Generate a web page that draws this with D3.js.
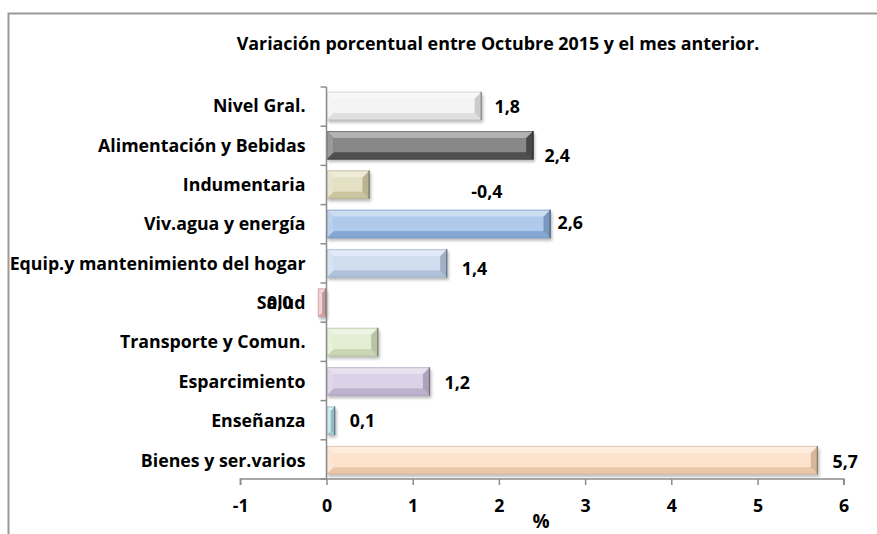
<!DOCTYPE html>
<html>
<head>
<meta charset="utf-8">
<script src="https://cdn.jsdelivr.net/npm/d3@7"></script>
<style>
  html, body { margin: 0; padding: 0; background: #fff; }
  svg { display: block; }
  text { font-family: "Open Sans", Lato, sans-serif; font-weight: bold; fill: #000; }
</style>
</head>
<body>
<svg id="chart" width="877" height="534"></svg>
<script>
// ---- data ----
const categories = [
  "Nivel Gral.",
  "Alimentación y Bebidas",
  "Indumentaria",
  "Viv.agua y energía",
  "Equip.y mantenimiento del hogar",
  "Salud",
  "Transporte y Comun.",
  "Esparcimiento",
  "Enseñanza",
  "Bienes y ser.varios"
];
const barValues = [1.8, 2.4, 0.5, 2.6, 1.4, -0.1, 0.6, 1.2, 0.1, 5.7];
const labelTexts = ["1,8", "2,4", "-0,4", "2,6", "1,4", "0,0", "", "1,2", "0,1", "5,7"];
// where each data label begins, in axis units
const labelAt = [1.95, 2.53, 1.68, 2.68, 1.57, -0.69, 0, 1.37, 0.27, 5.87];
const xTicks = [-1, 0, 1, 2, 3, 4, 5, 6];
const xDomain = [-1, 6];
const title = "Variación porcentual entre Octubre 2015 y el mes anterior.";
const xTitle = "%";

// ---- styles ----
const barColors = ["#efefef", "#555555", "#d9d2ab", "#8db3e2", "#bcd0ea",
                   "#e4b4b3", "#d9e6c0", "#cbbfdc", "#aedbe6", "#fcd6b6"];
const labelDy = [1, 10, 7, -1, 5, 0, 0, 1, 0, 1];

const svg = d3.select("#chart");
const W = 877, H = 534;

const x = d3.scaleLinear().domain(xDomain).range([240.3, 843.7]);
const y = d3.scaleBand().domain(categories).range([87, 479])
  .paddingInner(0.28).paddingOuter(0.12);

// fit a text element to a target width by adjusting its font size
function fitWidth(sel, target) {
  const node = sel.node();
  const fs = parseFloat(sel.style("font-size"));
  const w = node.getComputedTextLength();
  if (w > 0) sel.style("font-size", (fs * target / w).toFixed(2) + "px");
}

// frame
svg.append("path")
  .attr("d", `M8.5,${H} L8.5,13.5 L${W},13.5`)
  .attr("fill", "none").attr("stroke", "#9a9a9a").attr("stroke-width", 2);

// title
const t = svg.append("text").attr("x", 498).attr("y", 50)
  .attr("text-anchor", "middle").style("font-size", "16px").text(title);
fitWidth(t, 523);

const defs = svg.append("defs");
const f = defs.append("filter").attr("id", "shadow")
  .attr("x", "-10%").attr("y", "-30%").attr("width", "130%").attr("height", "180%");
f.append("feGaussianBlur").attr("stdDeviation", 1.5);

// bars
const g = svg.append("g");
categories.forEach((c, i) => {
  const v = barValues[i];
  const x0 = Math.min(x(0), x(v)), x1 = Math.max(x(0), x(v));
  const y0 = y(c), h = y.bandwidth(), y1 = y0 + h;
  const w = x1 - x0;
  const col = d3.color(barColors[i]);
  const bar = g.append("g");
  bar.append("rect").attr("x", x0 + 1.5).attr("y", y0 + 2.5).attr("width", w)
    .attr("height", h).attr("fill", "#000").attr("opacity", 0.28)
    .attr("filter", "url(#shadow)");
  bar.append("rect").attr("x", x0).attr("y", y0).attr("width", w).attr("height", h)
    .attr("fill", col.formatHex());
  const b = Math.min(7, w / 2, h / 2);
  const light = d3.interpolateRgb(col, "#ffffff")(0.55);
  const dark = col.darker(0.45).formatHex();
  const mid = d3.interpolateRgb(col, "#ffffff")(0.3);
  bar.append("rect").attr("x", x0 + b).attr("y", y0 + b).attr("width", Math.max(0, w - 2 * b))
    .attr("height", h - 2 * b).attr("fill", mid);
  bar.append("path").attr("d", `M${x0},${y0} L${x1},${y0} L${x1 - b},${y0 + b} L${x0 + b},${y0 + b} Z`)
    .attr("fill", light);
  bar.append("path").attr("d", `M${x0},${y1} L${x1},${y1} L${x1 - b},${y1 - b} L${x0 + b},${y1 - b} Z`)
    .attr("fill", col.darker(0.2).formatHex());
  bar.append("path").attr("d", `M${x0},${y0} L${x0 + b},${y0 + b} L${x0 + b},${y1 - b} L${x0},${y1} Z`)
    .attr("fill", d3.interpolateRgb(col, "#ffffff")(0.4));
  bar.append("path").attr("d", `M${x1},${y0} L${x1 - b},${y0 + b} L${x1 - b},${y1 - b} L${x1},${y1} Z`)
    .attr("fill", dark);
  bar.append("rect").attr("x", x0 + 0.5).attr("y", y0 + 0.5).attr("width", Math.max(0, w - 1))
    .attr("height", h - 1).attr("fill", "none").attr("stroke", col.darker(0.6).formatHex())
    .attr("stroke-opacity", 0.55).attr("stroke-width", 1);
  bar.append("line").attr("x1", x1 - 0.5).attr("x2", x1 - 0.5).attr("y1", y0).attr("y2", y1)
    .attr("stroke", col.darker(1.6).formatHex()).attr("stroke-width", 1.2);
});

// y axis
const yAxis = svg.append("g").attr("transform", `translate(${x(0)},0)`);
yAxis.append("line").attr("x1", 0).attr("x2", 0).attr("y1", 87).attr("y2", 479)
  .attr("stroke", "#8c8c8c").attr("stroke-width", 1.5);
d3.range(categories.length + 1).forEach(k => {
  const yy = 87 + k * (392 / categories.length);
  yAxis.append("line").attr("x1", -6).attr("x2", 0).attr("y1", yy).attr("y2", yy)
    .attr("stroke", "#8c8c8c").attr("stroke-width", 1.5);
});
const catLabels = [];
categories.forEach(c => {
  catLabels.push(yAxis.append("text").attr("x", -21).attr("y", y(c) + y.bandwidth() / 2)
    .attr("dy", "0.36em").attr("text-anchor", "end").style("font-size", "16px").text(c));
});
// the longest category label spans 296 px in the reference
fitWidth(catLabels[4], 296);
const catSize = catLabels[4].style("font-size");
catLabels.forEach(s => s.style("font-size", catSize));

// x axis
const xAxisG = svg.append("g").attr("transform", "translate(0,479)")
  .call(d3.axisBottom(x).tickValues(xTicks).tickSize(6).tickPadding(14)
    .tickFormat(d => d3.format("d")(d).replace("−", "-")));
xAxisG.select(".domain").attr("stroke", "#8c8c8c").attr("stroke-width", 1.5)
  .attr("d", `M${x(-1)},6V0H${x(6)}V6`);
xAxisG.selectAll(".tick line").attr("stroke", "#8c8c8c").attr("stroke-width", 1.5);
xAxisG.selectAll(".tick text").style("font-size", catSize)
  .style("font-family", "'Open Sans', sans-serif").style("font-weight", "bold").attr("fill", "#000");

svg.append("text").attr("x", 541).attr("y", 528).attr("text-anchor", "middle")
  .style("font-size", "19px").text(xTitle);

// data labels
categories.forEach((c, i) => {
  if (!labelTexts[i]) return;
  svg.append("text").attr("x", x(labelAt[i])).attr("y", y(c) + y.bandwidth() / 2 + labelDy[i])
    .attr("dy", "0.36em").style("font-size", catSize).text(labelTexts[i]);
});
</script>
</body>
</html>
